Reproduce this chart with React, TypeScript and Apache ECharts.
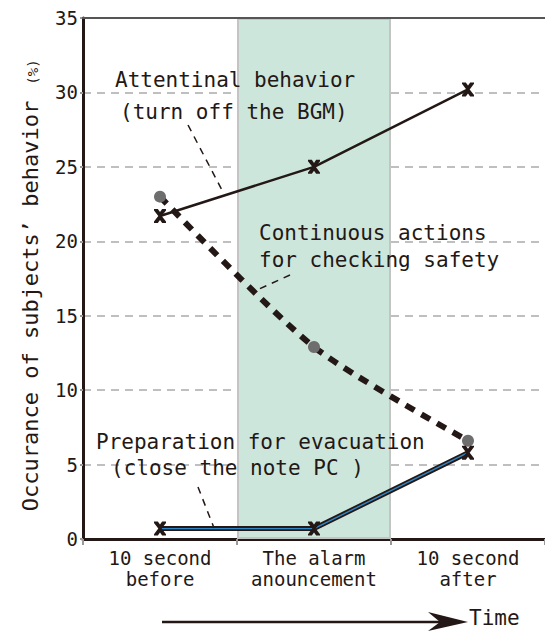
import React, { useEffect, useRef } from 'react';
import * as echarts from 'echarts';

const categories = ['10 second\nbefore', 'The alarm\nanouncement', '10 second\nafter'];
const attentional = [21.7, 25.0, 30.2];
const continuous = [23.0, 12.9, 6.6];
const preparation = [0.7, 0.7, 5.8];
const alarmBand = [null, 35, null];
const yMin = 0;
const yMax = 35;
const yStep = 5;

const MONO = "'DejaVu Sans Mono', monospace";
const INK = '#231815';
const XMARK = 'path://M0,0H3.2L5,2.6L6.8,0H10V1.2L6.4,6L10,10.8V12H6.8L5,9.4L3.2,12H0V10.8L3.6,6L0,1.2Z';

export default function App() {
  const ref = useRef<HTMLDivElement>(null);
  useEffect(() => {
    if (!ref.current) return;
    const chart = echarts.init(ref.current, undefined, { renderer: 'svg' });
    const annText = (x: number, y: number, text: string, size = 21) => ({
      type: 'text', x, y, z: 10,
      style: { text, font: `${size}px ${MONO}`, fill: INK, textVerticalAlign: 'middle' },
    });
    const leader = (x1: number, y1: number, x2: number, y2: number) => ({
      type: 'line', z: 10,
      shape: { x1, y1, x2, y2 },
      style: { stroke: INK, lineWidth: 1.5, lineDash: [7, 6] },
    });
    chart.setOption({
      animation: false,
      backgroundColor: '#ffffff',
      grid: { left: 83, right: 0, top: 18, bottom: 93, show: false },
      xAxis: {
        type: 'category',
        data: categories,
        boundaryGap: true,
        axisLine: { show: true, lineStyle: { color: INK, width: 3 } },
        axisTick: { show: true, length: 6, lineStyle: { color: '#999', width: 2 } },
        axisLabel: { interval: 0, color: INK, fontFamily: MONO, fontSize: 19, lineHeight: 21, margin: 8 },
        splitLine: { show: false },
      },
      yAxis: {
        type: 'value',
        min: yMin, max: yMax, interval: yStep,
        axisLine: { show: true, lineStyle: { color: INK, width: 3 } },
        axisTick: { show: true, length: 3, lineStyle: { color: '#999', width: 2 } },
        axisLabel: { color: INK, fontFamily: MONO, fontSize: 19, margin: 5 },
        splitLine: { show: true, lineStyle: { color: '#aaa', width: 1.5, type: [8, 6] } },
      },
      series: [
        {
          type: 'bar', data: alarmBand, barWidth: '100%', silent: true,
          itemStyle: { color: '#cde6dc', borderColor: '#c4c4c4', borderWidth: 2 },
          z: 1,
        },
        {
          type: 'line', data: continuous, smooth: 0.25,
          symbol: 'circle', symbolSize: 12,
          itemStyle: { color: '#6e6e6e' },
          lineStyle: { color: INK, width: 6, type: [10, 8] },
          z: 3,
        },
        {
          type: 'line', data: attentional,
          symbol: XMARK, symbolSize: [12, 14],
          itemStyle: { color: INK },
          lineStyle: { color: INK, width: 2.5 },
          z: 4,
        },
        {
          type: 'line', data: preparation,
          symbol: 'none',
          lineStyle: { color: INK, width: 5 },
          z: 4,
        },
        {
          type: 'line', data: preparation,
          symbol: XMARK, symbolSize: [12, 14],
          itemStyle: { color: INK },
          lineStyle: { color: '#2f86c6', width: 1.4 },
          z: 5,
        },
      ],
      graphic: [
        {
          type: 'line', z: 5, shape: { x1: 82, y1: 18, x2: 545, y2: 18 },
          style: { stroke: '#555', lineWidth: 2 },
        },
        annText(115, 80, 'Attentinal behavior'),
        annText(120, 112, '(turn off the BGM)'),
        leader(188, 125, 223, 192),
        annText(259, 233, 'Continuous actions'),
        annText(259, 260, 'for checking safety'),
        leader(290, 275, 257, 290),
        annText(96, 442, 'Preparation for evacuation'),
        annText(111, 468, '(close the note PC )'),
        leader(198, 487, 214, 528),
        {
          type: 'text', x: 30, y: 306, rotation: Math.PI / 2,
          style: { text: 'Occurance of subjects’ behavior', font: `22px ${MONO}`, fill: INK, textAlign: 'center', textVerticalAlign: 'middle' },
        },
        {
          type: 'text', x: 33, y: 72, rotation: Math.PI / 2,
          style: { text: '(%)', font: `14px ${MONO}`, fill: INK, textAlign: 'center', textVerticalAlign: 'middle' },
        },
        {
          type: 'line', shape: { x1: 162, y1: 622, x2: 440, y2: 622 },
          style: { stroke: INK, lineWidth: 2.5 },
        },
        {
          type: 'polygon', shape: { points: [[428, 612], [468, 622], [428, 631], [440, 622]] },
          style: { fill: INK },
        },
        {
          type: 'text', x: 469, y: 618,
          style: { text: 'Time', font: `21px ${MONO}`, fill: INK, textVerticalAlign: 'middle' },
        },
      ],
    });
    return () => chart.dispose();
  }, []);
  return (
    <div
      ref={ref}
      style={{ position: 'fixed', left: 0, top: 0, width: 545, height: 632, background: '#fff' }}
    />
  );
}
